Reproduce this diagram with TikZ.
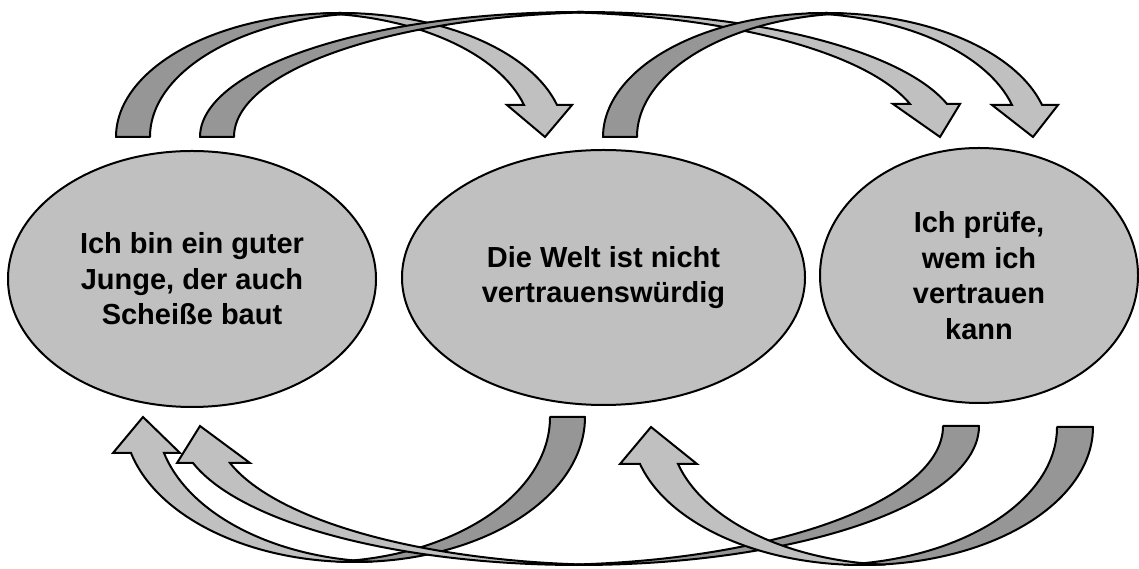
\documentclass[tikz,border=0pt]{standalone}
\usepackage{fontspec}
\setmainfont{Liberation Sans}
\usetikzlibrary{shapes.geometric}
\definecolor{lightg}{HTML}{C0C0C0}
\definecolor{darkg}{HTML}{969696}
\tikzset{
 ell/.style={ellipse, draw=black, line width=2pt, fill=lightg, inner sep=0pt, align=center,
   font=\bfseries\fontsize{29}{35.5}\selectfont},
 darkband/.style={draw=black, line width=2pt, fill=darkg, line join=round},
 lightband/.style={draw=black, line width=2pt, fill=lightg, line join=miter},
}
% curved arrow: base (left, at y=B) rises in an elliptic ribbon and comes down to an arrow head
\newcommand{\cArrow}[9]{%
 \def\caxL{#1}\def\cathD{#2}\def\caB{#3}\def\cary{#4}\def\caxR{#5}\def\cathL{#6}\def\cady{#7}\def\cawL{#8}\def\cawR{#9}\cArrowB}
\newcommand{\cArrowB}[1]{%
 \pgfmathsetmacro{\cath}{asin(\cady/\cary)}%
 \pgfmathsetmacro{\carad}{(\caxR-\caxL)/(1+cos(\cath))}%
 \pgfmathsetmacro{\cacen}{\caxL+\carad}%
 \pgfmathsetmacro{\catA}{acos(\cathD/(2*\carad))}%
 \pgfmathsetmacro{\catB}{180-\catA}%
 \pgfmathsetmacro{\catC}{acos(-\cathL/(2*\carad))}%
 \pgfmathsetmacro{\catD}{180-\catC}%
 \pgfmathsetmacro{\caH}{\caB+\cady}%
 \draw[darkband] (\caxL,\caB) arc[start angle=180, end angle=\catA, x radius=\carad, y radius=\cary]
   arc[start angle=\catB, end angle=180, x radius=\carad, y radius=\cary] -- cycle;
 \draw[lightband] ({\cacen+\carad*cos(\catC)},{\caB+\cary*sin(\catC)})
   arc[start angle=\catC, end angle=\cath, x radius=\carad, y radius=\cary]
   -- (\cawR,\caH) -- (#1,\caB) -- (\cawL,\caH) -- ({\caxR-\cathL},\caH)
   arc[start angle=\cath, end angle=\catD, x radius=\carad, y radius=\cary] -- cycle;
}
\begin{document}
\begin{tikzpicture}[x=1pt,y=1pt]
\useasboundingbox (0,0) rectangle (1139,569);
% top arrows
\cArrow{116}{34}{432}{124}{557}{33}{32}{507}{572}{545}
\cArrow{200}{34}{432}{125}{947}{37}{33}{893}{960}{940}
\cArrow{603}{34}{432}{124}{1042}{30}{32}{992}{1058}{1033}
% bottom arrows (rotated by 180 degrees)
\begin{scope}[rotate=180]
\cArrow{-585}{35}{-152}{145}{-131}{33}{36}{-180}{-113}{-143}
\cArrow{-979}{36}{-143}{139}{-193}{37}{37}{-250}{-177}{-200}
\cArrow{-1093}{36}{-142}{138}{-640}{38}{37}{-697}{-620}{-651}
\end{scope}
% ellipses
\node[ell, minimum width=368pt, minimum height=256pt] (L) at (192,290) {Ich bin ein guter\\Junge, der auch\\Scheiße baut};
\node[ell, minimum width=403pt, minimum height=255pt] (M) at (603.5,291.5) {Die Welt ist nicht\\vertrauenswürdig};
\node[ell, minimum width=318pt, minimum height=255pt] (R) at (979,293.5) {Ich prüfe,\\wem ich\\vertrauen\\kann};
\end{tikzpicture}
\end{document}
